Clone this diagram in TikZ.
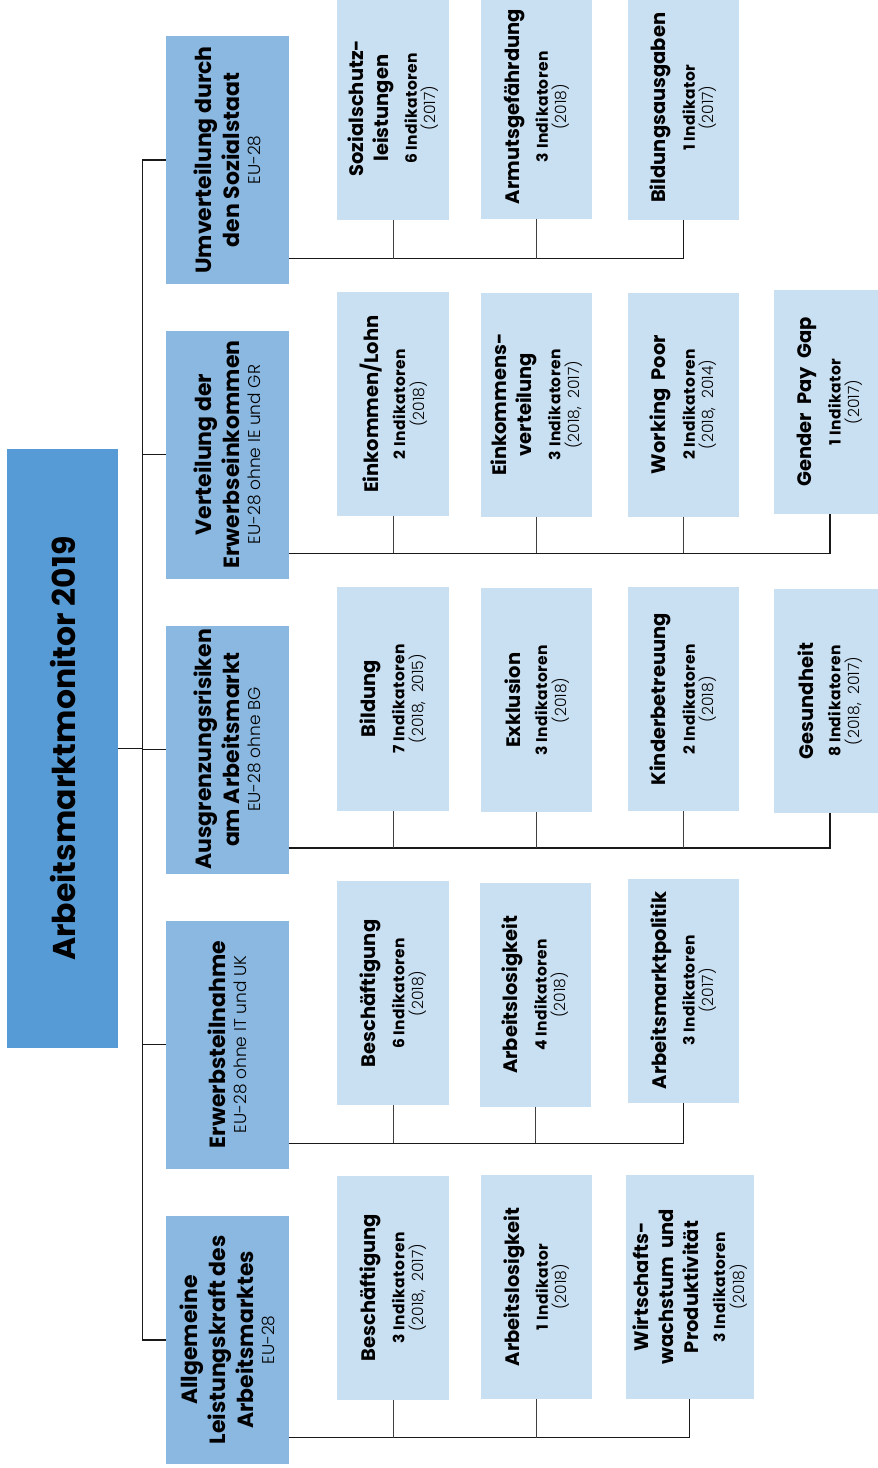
\documentclass[tikz,border=0pt]{standalone}
\usepackage{fontspec}
\usepackage{graphicx}
\setmainfont{Poppins}
\newfontfamily\lightfont{Poppins Light}
\newfontfamily\indfont[LetterSpace=3]{Poppins}
\usetikzlibrary{calc}
\definecolor{rootc}{RGB}{86,155,213}
\definecolor{catc}{RGB}{138,184,225}
\definecolor{leafc}{RGB}{201,223,242}
\newcommand{\leaftxt}[3]{\rotatebox{90}{\parbox{215pt}{\centering
  \fontsize{19.5}{25}\selectfont\bfseries #1\par\vspace{10pt}
  \indfont\fontsize{15.5}{17}\selectfont\bfseries #2\par
  \lightfont\mdseries\fontsize{15.5}{19}\selectfont #3\par}}}
\newcommand{\cattxt}[2]{\rotatebox{90}{\parbox{240pt}{\centering
  \fontsize{22}{28}\selectfont\bfseries #1\par
  \lightfont\mdseries\fontsize{17}{21}\selectfont #2\par}}}
\tikzset{
  box/.style={draw=none, inner sep=0pt, outer sep=0pt, text=black},
  rootbox/.style={box, fill=rootc, minimum width=111pt, minimum height=598.7pt},
  catbox/.style={box, fill=catc, minimum width=122.7pt, minimum height=248pt},
  leafbox/.style={box, fill=leafc, minimum width=111.5pt, minimum height=224pt},
  conn/.style={draw=black!90, line width=1.3pt},
  stub/.style={draw=black!75, line width=1pt}
}
\begin{document}
\begin{tikzpicture}[x=1pt,y=-1pt]
\useasboundingbox (0,0) rectangle (878,1468);
% root
\node[rootbox] (root) at (62.8,748.7) {\rotatebox{90}{\fontsize{31.5}{38}\selectfont\bfseries Arbeitsmarktmonitor 2019}};
% categories
\node[catbox] (c1) at (227.3,160) {\cattxt{Umverteilung durch\\den Sozialstaat}{EU-28}};
\node[catbox] (c2) at (227.3,454.5) {\cattxt{Verteilung der\\Erwerbseinkommen}{EU-28 ohne IE und GR}};
\node[catbox] (c3) at (227.3,749.5) {\cattxt{Ausgrenzungsrisiken\\am Arbeitsmarkt}{EU-28 ohne BG}};
\node[catbox] (c4) at (227.3,1044.5) {\cattxt{Erwerbsteilnahme}{EU-28 ohne IT und UK}};
\node[catbox] (c5) at (227.3,1340) {\cattxt{Allgemeine\\Leistungskraft des\\Arbeitsmarktes}{EU-28}};
% row 1
\node[leafbox] (l11) at (393.2,108.2) {\leaftxt{Sozialschutz-\\leistungen}{6 Indikatoren}{(2017)}};
\node[leafbox] (l12) at (536.7,106.7) {\leaftxt{Armutsgefährdung}{3 Indikatoren}{(2018)}};
\node[leafbox] (l13) at (683.5,107.8) {\leaftxt{Bildungsausgaben}{1 Indikator}{(2017)}};
% row 2
\node[leafbox] (l21) at (393.2,404) {\leaftxt{Einkommen/Lohn}{2 Indikatoren}{(2018)}};
\node[leafbox] (l22) at (536.7,404.7) {\leaftxt{Einkommens-\\verteilung}{3 Indikatoren}{(2018,\ \ 2017)}};
\node[leafbox] (l23) at (683.5,404.5) {\leaftxt{Working\ \ Poor}{2 Indikatoren}{(2018,\ \ 2014)}};
\node[leafbox] (l24) at (830,402) {\leaftxt{Gender\ \ Pay\ \ Gap}{1 Indikator}{(2017)}};
% row 3
\node[leafbox] (l31) at (393.2,698.6) {\leaftxt{Bildung}{7 Indikatoren}{(2018,\ \ 2015)}};
\node[leafbox] (l32) at (536.7,700.3) {\leaftxt{Exklusion}{3 Indikatoren}{(2018)}};
\node[leafbox] (l33) at (683.5,699.2) {\leaftxt{Kinderbetreuung}{2 Indikatoren}{(2018)}};
\node[leafbox] (l34) at (830,701) {\leaftxt{Gesundheit}{8 Indikatoren}{(2018,\ \ 2017)}};
% row 4
\node[leafbox] (l41) at (393.2,993.3) {\leaftxt{Beschäftigung}{6 Indikatoren}{(2018)}};
\node[leafbox] (l42) at (535.4,994.7) {\leaftxt{Arbeitslosigkeit}{4 Indikatoren}{(2018)}};
\node[leafbox] (l43) at (683.5,990.5) {\leaftxt{Arbeitsmarktpolitik}{3 Indikatoren}{(2017)}};
% row 5
\node[leafbox] (l51) at (393.2,1287.8) {\leaftxt{Beschäftigung}{3 Indikatoren}{(2018,\ \ 2017)}};
\node[leafbox] (l52) at (536.7,1287) {\leaftxt{Arbeitslosigkeit}{1 Indikator}{(2018)}};
\node[leafbox, minimum width=128pt] (l53) at (689.7,1287) {\leaftxt{Wirtschafts-\\wachstum\ \ und\\Produktivität}{3 Indikatoren}{(2018)}};
% trunk
\coordinate (trunk) at (142.7,748.7);
\draw[conn] (root.east) -- (root.east -| trunk);
\draw[conn] (c1.west) -- (c1.west -| trunk) -- (c5.west -| trunk) -- (c5.west);
\foreach \k in {2,3,4} {\draw[conn] (c\k.west) -- (c\k.west -| trunk);}
% buses
\coordinate (b1) at (300,258.5);
\coordinate (b2) at (300,553.3);
\coordinate (b3) at (300,848);
\coordinate (b4) at (300,1143.3);
\coordinate (b5) at (300,1437.7);
\draw[conn] (c1.east |- b1) -| (l13.south);
\draw[conn] (c2.east |- b2) -| (l24.south);
\draw[conn] (c3.east |- b3) -| (l34.south);
\draw[conn] (c4.east |- b4) -| (l43.south);
\draw[conn] (c5.east |- b5) -| (l53.south);
\foreach \r/\n in {1/1,1/2,2/1,2/2,2/3,3/1,3/2,3/3,4/1,4/2,5/1,5/2} {
  \draw[stub] (l\r\n.south) -- (l\r\n.south |- b\r);
}
\end{tikzpicture}
\end{document}
